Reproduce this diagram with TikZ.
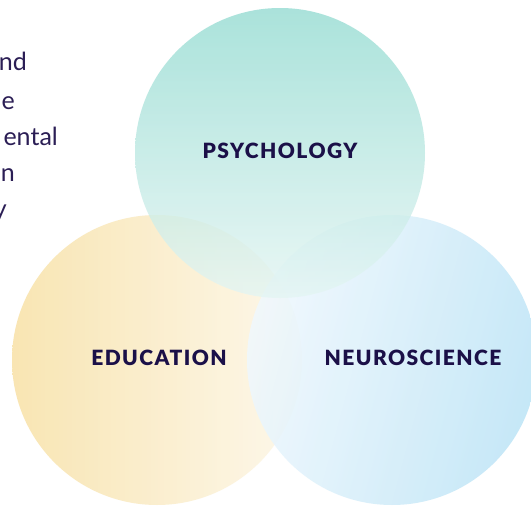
\documentclass[tikz,border=0pt]{standalone}
\usepackage{fontspec}
\setmainfont{Lato}
\newfontfamily\labelfont[LetterSpace=7]{Lato Black}
\definecolor{ink}{HTML}{1B1048}
\definecolor{bodyink}{HTML}{2B1E55}
\definecolor{teal1}{HTML}{93DBD1}
\definecolor{teal2}{HTML}{E4F5F3}
\definecolor{sand1}{HTML}{F8E1A6}
\definecolor{sand2}{HTML}{FDF7E8}
\definecolor{sky1}{HTML}{F0F8FE}
\definecolor{sky2}{HTML}{BCE4F6}
\tikzset{
  lbl/.style={font=\labelfont\fontsize{21}{24}\selectfont, text=ink, inner sep=0pt},
  bodytxt/.style={font=\fontsize{25}{30}\selectfont, text=bodyink, inner sep=0pt, anchor=base east},
}
\begin{document}
\begin{tikzpicture}[x=1pt,y=-1pt]
\useasboundingbox (0,0) rectangle (531,506);
\fill[white] (0,0) rectangle (531,506);
% circles
\shade[left color=sand1, right color=sand2, opacity=0.85] (157,360) circle (145);
\shade[left color=sky1, right color=sky2, shading angle=75, opacity=0.85] (392,360) circle (145);
\shade[top color=teal1, bottom color=teal2, opacity=0.78] (280,153) circle (145);
% labels
\node[lbl] (psy) at (280,151) {PSYCHOLOGY};
\node[lbl] (edu) at (159,358) {EDUCATION};
\node[lbl] (neu) at (413,358) {NEUROSCIENCE};
% clipped body text at left
\node[bodytxt] (t1) at (27,70) {nd};
\node[bodytxt] (t2) at (15,109) {e};
\node[bodytxt] (t3) at (58,145) {ental};
\node[bodytxt] (t4) at (15,181) {n};
\node[bodytxt] (t5) at (7,217) {y};
\end{tikzpicture}
\end{document}
